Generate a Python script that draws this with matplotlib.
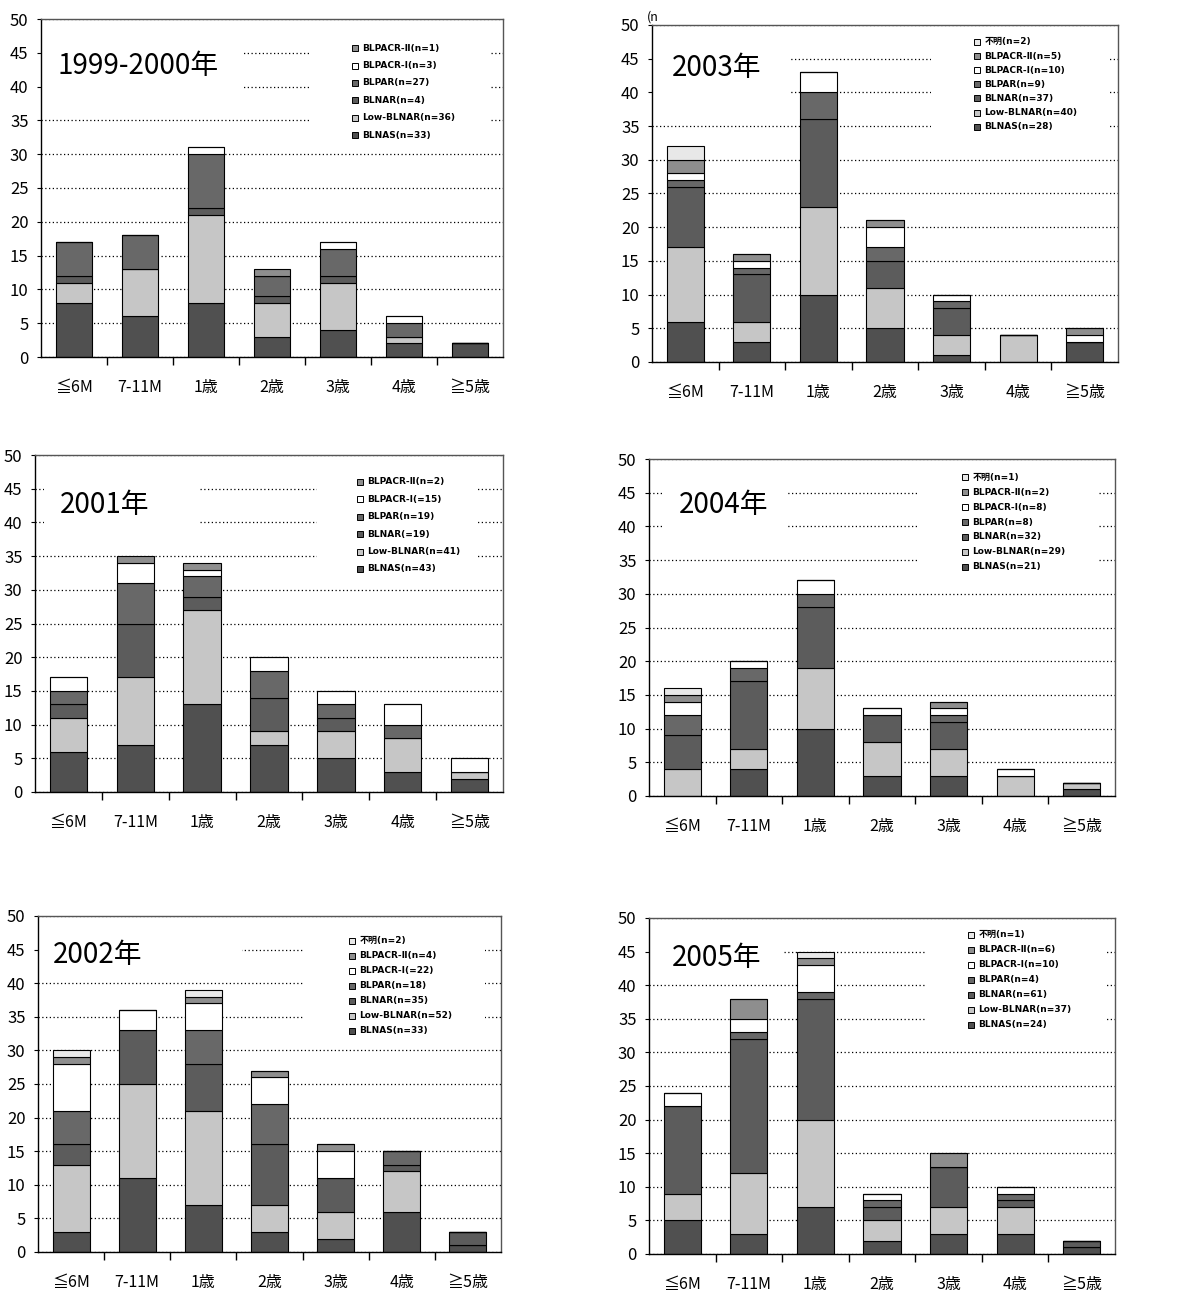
import numpy as np
import matplotlib
matplotlib.use('Agg')
import matplotlib.pyplot as plt
from matplotlib.patches import Rectangle

plt.rcParams['font.family'] = ['Noto Sans CJK JP', 'DejaVu Sans']

ages = ['≦6M', '7-11M', '1歳', '2歳', '3歳', '4歳', '≧5歳']
groups = ['BLNAS', 'Low-BLNAR', 'BLNAR', 'BLPAR', 'BLPACR-I', 'BLPACR-II', 'unknown']
colors = {'BLNAS': '#505050', 'Low-BLNAR': '#c6c6c6', 'BLNAR': '#5c5c5c',
          'BLPAR': '#686868', 'BLPACR-I': '#ffffff', 'BLPACR-II': '#8e8e8e',
          'unknown': '#e8e8e8'}

# counts per age group, bottom to top of each stack
counts_1999 = {
    'BLNAS':     [8, 6, 8, 3, 4, 2, 2],
    'Low-BLNAR': [3, 7, 13, 5, 7, 1, 0],
    'BLNAR':     [1, 0, 1, 1, 1, 0, 0],
    'BLPAR':     [5, 5, 8, 3, 4, 2, 0],
    'BLPACR-I':  [0, 0, 1, 0, 1, 1, 0],
    'BLPACR-II': [0, 0, 0, 1, 0, 0, 0],
}
counts_2001 = {
    'BLNAS':     [6, 7, 13, 7, 5, 3, 2],
    'Low-BLNAR': [5, 10, 14, 2, 4, 5, 1],
    'BLNAR':     [2, 8, 2, 5, 2, 0, 0],
    'BLPAR':     [2, 6, 3, 4, 2, 2, 0],
    'BLPACR-I':  [2, 3, 1, 2, 2, 3, 2],
    'BLPACR-II': [0, 1, 1, 0, 0, 0, 0],
}
counts_2002 = {
    'BLNAS':     [3, 11, 7, 3, 2, 6, 1],
    'Low-BLNAR': [10, 14, 14, 4, 4, 6, 0],
    'BLNAR':     [3, 8, 7, 9, 5, 1, 2],
    'BLPAR':     [5, 0, 5, 6, 0, 2, 0],
    'BLPACR-I':  [7, 3, 4, 4, 4, 0, 0],
    'BLPACR-II': [1, 0, 1, 1, 1, 0, 0],
    'unknown':   [1, 0, 1, 0, 0, 0, 0],
}
counts_2003 = {
    'BLNAS':     [6, 3, 10, 5, 1, 0, 3],
    'Low-BLNAR': [11, 3, 13, 6, 3, 4, 0],
    'BLNAR':     [9, 7, 13, 4, 4, 0, 0],
    'BLPAR':     [1, 1, 4, 2, 1, 0, 0],
    'BLPACR-I':  [1, 1, 3, 3, 1, 0, 1],
    'BLPACR-II': [2, 1, 0, 1, 0, 0, 1],
    'unknown':   [2, 0, 0, 0, 0, 0, 0],
}
counts_2004 = {
    'BLNAS':     [0, 4, 10, 3, 3, 0, 1],
    'Low-BLNAR': [4, 3, 9, 5, 4, 3, 1],
    'BLNAR':     [5, 10, 9, 4, 4, 0, 0],
    'BLPAR':     [3, 2, 2, 0, 1, 0, 0],
    'BLPACR-I':  [2, 1, 2, 1, 1, 1, 0],
    'BLPACR-II': [1, 0, 0, 0, 1, 0, 0],
    'unknown':   [1, 0, 0, 0, 0, 0, 0],
}
counts_2005 = {
    'BLNAS':     [5, 3, 7, 2, 3, 3, 1],
    'Low-BLNAR': [4, 9, 13, 3, 4, 4, 0],
    'BLNAR':     [13, 20, 18, 2, 6, 1, 1],
    'BLPAR':     [0, 1, 1, 1, 0, 1, 0],
    'BLPACR-I':  [2, 2, 4, 1, 0, 1, 0],
    'BLPACR-II': [0, 3, 1, 0, 2, 0, 0],
    'unknown':   [0, 0, 1, 0, 0, 0, 0],
}

# legend texts, top to bottom
labels_1999 = ['BLPACR-Ⅱ(n=1)', 'BLPACR-Ⅰ(n=3)', 'BLPAR(n=27)', 'BLNAR(n=4)',
               'Low-BLNAR(n=36)', 'BLNAS(n=33)']
labels_2001 = ['BLPACR-Ⅱ(n=2)', 'BLPACR-Ⅰ(=15)', 'BLPAR(n=19)', 'BLNAR(=19)',
               'Low-BLNAR(n=41)', 'BLNAS(n=43)']
labels_2002 = ['不明(n=2)', 'BLPACR-Ⅱ(n=4)', 'BLPACR-Ⅰ(=22)', 'BLPAR(n=18)',
               'BLNAR(n=35)', 'Low-BLNAR(n=52)', 'BLNAS(n=33)']
labels_2003 = ['不明(n=2)', 'BLPACR-Ⅱ(n=5)', 'BLPACR-Ⅰ(n=10)', 'BLPAR(n=9)',
               'BLNAR(n=37)', 'Low-BLNAR(n=40)', 'BLNAS(n=28)']
labels_2004 = ['不明(n=1)', 'BLPACR-Ⅱ(n=2)', 'BLPACR-Ⅰ(n=8)', 'BLPAR(n=8)',
               'BLNAR(n=32)', 'Low-BLNAR(n=29)', 'BLNAS(n=21)']
labels_2005 = ['不明(n=1)', 'BLPACR-Ⅱ(n=6)', 'BLPACR-Ⅰ(n=10)', 'BLPAR(n=4)',
               'BLNAR(n=61)', 'Low-BLNAR(n=37)', 'BLNAS(n=24)']

W, H = 1194, 1291
fig = plt.figure(figsize=(W / 100, H / 100), dpi=100)

# (counts, labels, title, axes box px l/r/top/bottom, title pos, title box, legend box, legend x, legend rows)
panels = [
    (counts_1999, labels_1999, '1999-2000年', (41, 503, 19, 357), (0.035, 43.0),
     (0.0, 0.44, 37), (0.583, 0.972), 0.68, (45.7, 32.8)),
    (counts_2003, labels_2003, '2003年', (652, 1118, 25, 362), (0.043, 43.6),
     (0.0, 0.294, 37), (0.599, 0.983), 0.697, (47.5, 34.9)),
    (counts_2001, labels_2001, '2001年', (35, 503, 455, 792), (0.053, 42.6),
     (0.02, 0.348, 37), (0.603, 0.947), 0.694, (46.0, 33.1)),
    (counts_2004, labels_2004, '2004年', (649, 1115, 459, 796), (0.064, 43.2),
     (0.027, 0.298, 37), (0.575, 0.966), 0.678, (47.3, 34.0)),
    (counts_2002, labels_2002, '2002年', (38, 501, 916, 1252), (0.033, 44.2),
     (0.0, 0.44, 42.5), (0.575, 0.965), 0.678, (46.3, 32.9)),
    (counts_2005, labels_2005, '2005年', (649, 1115, 918, 1254), (0.05, 44.0),
     (0.0, 0.285, 42.5), (0.592, 0.979), 0.691, (47.5, 34.1)),
]

x = np.arange(len(ages))
for counts, labels, title, box, tpos, tbox, lbox, lx, lrows in panels:
    l, r, t, b = box
    ax = fig.add_axes([l / W, 1 - b / H, (r - l) / W, (b - t) / H])
    ax.set_xlim(-0.5, 6.5)
    ax.set_ylim(0, 50)

    bottom = np.zeros(len(ages))
    for g in groups:
        if g not in counts:
            continue
        vals = np.array(counts[g])
        ax.bar(x, vals, 0.56, bottom=bottom, color=colors[g],
               edgecolor='black', linewidth=0.8, zorder=3)
        bottom += vals

    ax.set_yticks(np.arange(0, 51, 5))
    ax.yaxis.grid(True, linestyle=(0, (1, 2)), color='black', linewidth=0.9)
    ax.set_axisbelow(True)
    ax.tick_params(axis='y', labelsize=12, length=3, pad=6)

    ax.set_xticks(x)
    ax.set_xticklabels(ages)
    ax.set_xticks(np.arange(0.5, 6, 1), minor=True)
    ax.tick_params(axis='x', which='major', length=0, labelsize=11.5, pad=16)
    ax.tick_params(axis='x', which='minor', length=6, width=1, direction='out')

    for side in ['top', 'right']:
        ax.spines[side].set_color('#555555')
    for side in ax.spines.values():
        side.set_linewidth(1)
        side.set_zorder(5)

    # white patches that blank out the grid behind title and legend
    yt = ax.get_yaxis_transform()
    ax.add_patch(Rectangle((tbox[0], tbox[2]), tbox[1] - tbox[0], 49.6 - tbox[2],
                           transform=yt, facecolor='white', edgecolor='none',
                           zorder=1))
    ax.add_patch(Rectangle((lbox[0], 32), lbox[1] - lbox[0], 17.6,
                           transform=yt, facecolor='white', edgecolor='none',
                           zorder=1))

    ax.text(tpos[0], tpos[1], title, transform=yt, fontsize=20,
            va='center', ha='left', zorder=4)

    # legend entries, top of the list = top of the stack
    names = [g for g in groups if g in counts][::-1]
    ys = np.linspace(lrows[0], lrows[1], len(labels))
    for name, lab, yy in zip(names, labels, ys):
        ax.plot([lx], [yy], marker='s', ms=5, mfc=colors[name], mec='black',
                mew=0.7, transform=yt, zorder=4, clip_on=False)
        ax.text(lx + 0.016, yy, lab, transform=yt, fontsize=6.5,
                family=['DejaVu Sans', 'Noto Sans CJK JP'],
                fontweight='bold', va='center', ha='left', zorder=4)

    if title == '2003年':
        ax.text(-0.012, 51.2, '(n', transform=yt, fontsize=9,
                va='center', ha='left', clip_on=False)

fig.savefig('out.png', dpi=100, facecolor='white')
